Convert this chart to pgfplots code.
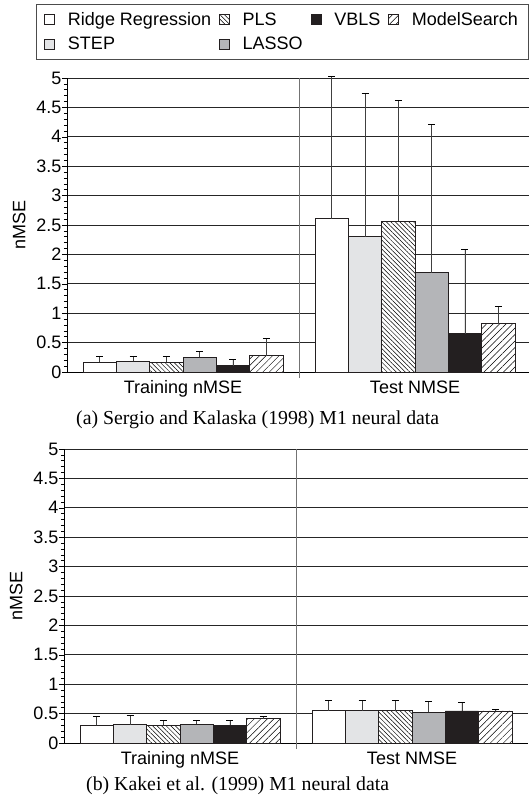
\documentclass[border=0pt]{standalone}
\usepackage{fontspec}
\setmainfont{Liberation Sans}
\newfontfamily\capfont{Liberation Serif}
\usepackage{pgfplots}
\pgfplotsset{compat=1.18}
\usetikzlibrary{patterns.meta}
\definecolor{stepc}{HTML}{E3E4E6}
\definecolor{lassoc}{HTML}{B4B5B8}
\definecolor{vblsc}{HTML}{231F20}
\definecolor{edgec}{HTML}{231F20}
\newcommand\fs{\fontsize{18bp}{21bp}\selectfont}
\newcommand\cfs{\fontsize{19.8bp}{23bp}\selectfont}

\pgfplotsset{
 mystyle/.style={
  scale only axis, width=464bp, height=294bp,
  anchor=north west,
  xmin=-0.5, xmax=1.5, ymin=0, ymax=5,
  axis lines*=left, axis line style={-, black, line width=0.9bp},
  ytick={0,0.5,1,1.5,2,2.5,3,3.5,4,4.5,5},
  minor y tick num=4,
  ymajorgrids, major grid style={black!85, line width=0.7bp},
  tick align=outside, major tick length=5bp, minor tick length=3bp,
  tick style={black, line width=0.6bp},
  xtick={0,1}, xticklabels={Training nMSE, Test NMSE},
  xtick style={draw=none},
  /pgf/number format/assume math mode=true,
  tick label style={font=\fs},
  label style={font=\fs},
  ylabel={nMSE},
  ylabel style={xshift=0bp, yshift=4bp},
  yticklabel style={xshift=3bp},
  ybar=0pt, bar width=33.3bp,
  clip=false,
  every axis plot/.append style={draw=edgec, line width=0.8bp},
  error bars/y dir=plus, error bars/y explicit,
  error bars/error bar style={line width=0.8bp, draw=black!75},
  error bars/error mark=-,
  error bars/error mark options={draw=black, mark size=3.5bp, line width=0.8bp, rotate=90},
 },
 ridge/.style={fill=white, bar shift=-83.25bp},
 step/.style={fill=stepc, bar shift=-49.95bp},
 pls/.style={fill=white, postaction={pattern={Lines[angle=-45,distance=3.2bp,line width=0.5bp]}, pattern color=black}, bar shift=-16.65bp},
 lasso/.style={fill=lassoc, bar shift=16.65bp},
 vbls/.style={fill=vblsc, bar shift=49.95bp},
 ms/.style={fill=white, postaction={pattern={Lines[angle=45,distance=4.6bp,line width=0.5bp]}, pattern color=black}, bar shift=83.25bp},
}

\begin{document}
\begin{tikzpicture}
\begin{axis}[mystyle, name=top, at={(67bp,-78bp)},
  legend columns=4,
  legend cell align=left,
  legend image code/.code={\draw[#1, line width=0.6bp] (0bp,-5bp) rectangle (10bp,5bp);},
  legend style={at={(rel axis cs:0,1)}, anchor=north west, xshift=-31bp, yshift=74bp,
    draw=black!70, line width=0.8bp, font=\fs, inner xsep=8bp, inner ysep=6bp, row sep=6bp,
    /tikz/every odd column/.append style={column sep=11bp},
    /tikz/every even column/.append style={column sep=6bp}},
]
\addplot[ridge] coordinates {(0,0.17) +- (0,0.09) (1,2.61) +- (0,2.42)};
\addlegendentry{Ridge Regression}
\addplot[pls] coordinates {(0,0.17) +- (0,0.09) (1,2.56) +- (0,2.06)};
\addlegendentry{PLS}
\addplot[vbls] coordinates {(0,0.11) +- (0,0.10) (1,0.65) +- (0,1.43)};
\addlegendentry{VBLS}
\addplot[ms] coordinates {(0,0.28) +- (0,0.29) (1,0.82) +- (0,0.29)};
\addlegendentry{ModelSearch}
\addplot[step] coordinates {(0,0.18) +- (0,0.09) (1,2.30) +- (0,2.43)};
\addlegendentry{STEP}
\addplot[lasso] coordinates {(0,0.25) +- (0,0.10) (1,1.69) +- (0,2.52)};
\addlegendentry{LASSO}
\draw[black!55, line width=0.8bp] ([yshift=-6bp]axis cs:0.5,0) -- (axis cs:0.5,5);
\end{axis}

\begin{axis}[mystyle, name=bottom, at={(64bp,-449bp)}]
\addplot[ridge] coordinates {(0,0.30) +- (0,0.15) (1,0.55) +- (0,0.18)};
\addplot[pls] coordinates {(0,0.30) +- (0,0.08) (1,0.55) +- (0,0.17)};
\addplot[vbls] coordinates {(0,0.30) +- (0,0.08) (1,0.545) +- (0,0.145)};
\addplot[ms] coordinates {(0,0.41) +- (0,0.04) (1,0.545) +- (0,0.035)};
\addplot[step] coordinates {(0,0.31) +- (0,0.16) (1,0.55) +- (0,0.18)};
\addplot[lasso] coordinates {(0,0.32) +- (0,0.07) (1,0.52) +- (0,0.18)};
\draw[black!55, line width=0.8bp] ([yshift=-6bp]axis cs:0.5,0) -- (axis cs:0.5,5);
\end{axis}

\node[anchor=west, inner sep=0pt, font=\capfont\cfs] at (76bp,-420bp) {(a) Sergio and Kalaska (1998) M1 neural data};
\node[anchor=west, inner sep=0pt, font=\capfont\cfs] at (86bp,-786bp) {(b) Kakei et al. (1999) M1 neural data};

\pgfresetboundingbox
\useasboundingbox (0,0) rectangle (529bp,-804bp);
\end{tikzpicture}
\end{document}
